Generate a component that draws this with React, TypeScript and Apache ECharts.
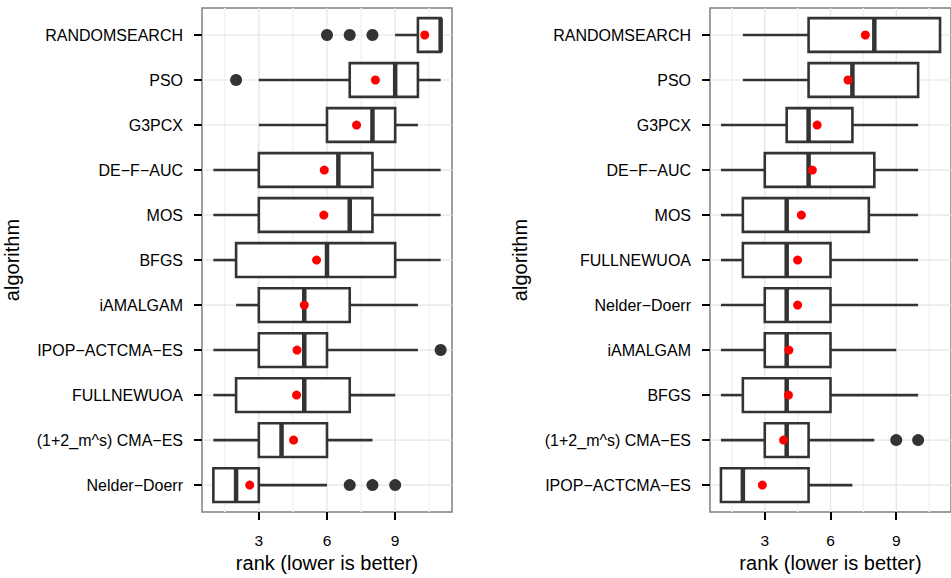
import React, { useEffect, useRef } from "react";
import * as echarts from "echarts";

// ---------- data ----------
const leftCats = ["RANDOMSEARCH", "PSO", "G3PCX", "DE−F−AUC", "MOS", "BFGS", "iAMALGAM", "IPOP−ACTCMA−ES", "FULLNEWUOA", "(1+2_m^s) CMA−ES", "Nelder−Doerr"];
const leftLow = [9, 3, 3, 1, 1, 1, 2, 1, 1, 1, 1];
const leftQ1 = [10, 7, 6, 3, 3, 2, 3, 3, 2, 3, 1];
const leftMed = [11, 9, 8, 6.5, 7, 6, 5, 5, 5, 4, 2];
const leftQ3 = [11, 10, 9, 8, 8, 9, 7, 6, 7, 6, 3];
const leftHigh = [11, 11, 10, 11, 11, 11, 10, 10, 9, 8, 6];
const leftMean = [10.3, 8.13, 7.3, 5.88, 5.86, 5.54, 5.0, 4.68, 4.66, 4.53, 2.6];
const leftOutliers: [number, number][] = [[6, 0], [7, 0], [8, 0], [2, 1], [11, 7], [7, 10], [8, 10], [9, 10]];

const rightCats = ["RANDOMSEARCH", "PSO", "G3PCX", "DE−F−AUC", "MOS", "FULLNEWUOA", "Nelder−Doerr", "iAMALGAM", "BFGS", "(1+2_m^s) CMA−ES", "IPOP−ACTCMA−ES"];
const rightLow = [2, 2, 1, 1, 1, 1, 1, 1, 1, 1, 1];
const rightQ1 = [5, 5, 4, 3, 2, 2, 3, 3, 2, 3, 1];
const rightMed = [8, 7, 5, 5, 4, 4, 4, 4, 4, 4, 2];
const rightQ3 = [11, 10, 7, 8, 7.75, 6, 6, 6, 6, 5, 5];
const rightHigh = [11, 10, 10, 10, 10, 10, 10, 9, 10, 8, 7];
const rightMean = [7.59, 6.8, 5.39, 5.17, 4.67, 4.5, 4.5, 4.1, 4.08, 3.86, 2.89];
const rightOutliers: [number, number][] = [[9, 9], [10, 9]];

const xTicks = [3, 6, 9];
const xMinor = [1.5, 4.5, 7.5, 10.5];

const FONT = "Liberation Sans, Arial, sans-serif";

function panel(idx: number, cats: string[], low: number[], q1: number[], med: number[], q3: number[], high: number[], mean: number[], outliers: [number, number][]) {
  const rows = cats.map((_, i) => i);
  const xAxis = {
    gridIndex: idx,
    type: "value",
    min: 0.5,
    max: 11.5,
    axisLine: { show: false, onZero: false },
    splitLine: { show: false },
    axisTick: { show: true, length: 8, customValues: xTicks, lineStyle: { color: "#000", width: 2 } },
    axisLabel: { customValues: xTicks, fontSize: 15.5, color: "#000", margin: 20, fontFamily: FONT },
    name: "rank (lower is better)",
    nameLocation: "middle",
    nameGap: 39,
    nameTextStyle: { fontSize: 20, color: "#000", fontFamily: FONT },
  };
  const yAxis = {
    gridIndex: idx,
    type: "value",
    inverse: true,
    min: -0.6,
    max: 10.6,
    axisLine: { show: false, onZero: false },
    splitLine: { show: false },
    axisTick: { show: true, length: 8, customValues: rows, lineStyle: { color: "#000", width: 2 } },
    axisLabel: {
      customValues: rows,
      formatter: (v: number) => cats[Math.round(v)] ?? "",
      fontSize: 16,
      color: "#000",
      margin: 19,
      fontFamily: FONT,
    },
    name: "algorithm",
    nameLocation: "middle",
    nameRotate: 90,
    nameGap: 180,
    nameTextStyle: { fontSize: 20, color: "#000", fontFamily: FONT },
  };
  const gridSeries = {
    type: "custom",
    xAxisIndex: idx,
    yAxisIndex: idx,
    silent: true,
    z: 1,
    data: [[1, 0]],
    renderItem: (params: any, api: any) => {
      const cs = params.coordSys;
      const children: any[] = [];
      xMinor.forEach((v) => {
        const x = api.coord([v, 0])[0];
        children.push({ type: "line", shape: { x1: x, y1: cs.y, x2: x, y2: cs.y + cs.height }, style: { stroke: "#f2f2f2", lineWidth: 1.5 } });
      });
      xTicks.forEach((v) => {
        const x = api.coord([v, 0])[0];
        children.push({ type: "line", shape: { x1: x, y1: cs.y, x2: x, y2: cs.y + cs.height }, style: { stroke: "#e4e4e4", lineWidth: 1.2 } });
      });
      rows.forEach((r) => {
        const y = api.coord([1, r])[1];
        children.push({ type: "line", shape: { x1: cs.x, y1: y, x2: cs.x + cs.width, y2: y }, style: { stroke: "#e4e4e4", lineWidth: 1.2 } });
      });
      return { type: "group", children };
    },
  };
  const boxSeries = {
    type: "custom",
    xAxisIndex: idx,
    yAxisIndex: idx,
    z: 2,
    encode: { x: [1, 2, 3, 4, 5], y: 0 },
    data: rows.map((i) => [i, low[i], q1[i], med[i], q3[i], high[i]]),
    renderItem: (params: any, api: any) => {
      const i = api.value(0);
      const pL = api.coord([api.value(1), i]);
      const p1 = api.coord([api.value(2), i]);
      const pM = api.coord([api.value(3), i]);
      const p3 = api.coord([api.value(4), i]);
      const pH = api.coord([api.value(5), i]);
      const y = pM[1];
      const h = api.size([0, 0.75])[1];
      const st = { stroke: "#333333", lineWidth: 2.6 };
      const ch: any[] = [];
      if (pL[0] < p1[0]) ch.push({ type: "line", shape: { x1: pL[0], y1: y, x2: p1[0], y2: y }, style: st });
      if (pH[0] > p3[0]) ch.push({ type: "line", shape: { x1: p3[0], y1: y, x2: pH[0], y2: y }, style: st });
      ch.push({ type: "rect", shape: { x: p1[0], y: y - h / 2, width: p3[0] - p1[0], height: h }, style: { fill: "#fff", stroke: "#333333", lineWidth: 2.6 } });
      ch.push({ type: "line", shape: { x1: pM[0], y1: y - h / 2, x2: pM[0], y2: y + h / 2 }, style: { stroke: "#333333", lineWidth: 4.5 } });
      return { type: "group", children: ch };
    },
  };
  const outlierSeries = {
    type: "scatter",
    xAxisIndex: idx,
    yAxisIndex: idx,
    z: 3,
    symbol: "circle",
    symbolSize: 12,
    itemStyle: { color: "#333333", opacity: 1 },
    data: outliers,
  };
  const meanSeries = {
    type: "scatter",
    xAxisIndex: idx,
    yAxisIndex: idx,
    z: 4,
    symbol: "circle",
    symbolSize: 9,
    itemStyle: { color: "#ff0000", opacity: 1 },
    data: mean.map((m, i) => [m, i]),
  };
  return { xAxis, yAxis, series: [gridSeries, boxSeries, outlierSeries, meanSeries] };
}

export default function App() {
  const ref = useRef<HTMLDivElement>(null);
  useEffect(() => {
    if (!ref.current) return;
    const chart = echarts.init(ref.current, undefined, { renderer: "svg" });
    const L = panel(0, leftCats, leftLow, leftQ1, leftMed, leftQ3, leftHigh, leftMean, leftOutliers);
    const R = panel(1, rightCats, rightLow, rightQ1, rightMed, rightQ3, rightHigh, rightMean, rightOutliers);
    chart.setOption({
      animation: false,
      backgroundColor: "#fff",
      textStyle: { fontFamily: FONT },
      grid: [
        { left: 202, top: 8, width: 250, height: 509, show: true, borderColor: "#7f7f7f", borderWidth: 1.5, backgroundColor: "#fff" },
        { left: 710, top: 8, width: 250, height: 509, show: true, borderColor: "#7f7f7f", borderWidth: 1.5, backgroundColor: "#fff" },
      ],
      xAxis: [L.xAxis, R.xAxis],
      yAxis: [L.yAxis, R.yAxis],
      series: [...L.series, ...R.series],
    });
    return () => chart.dispose();
  }, []);
  return <div ref={ref} style={{ position: "absolute", left: 0, top: 0, width: 951, height: 578 }} />;
}
